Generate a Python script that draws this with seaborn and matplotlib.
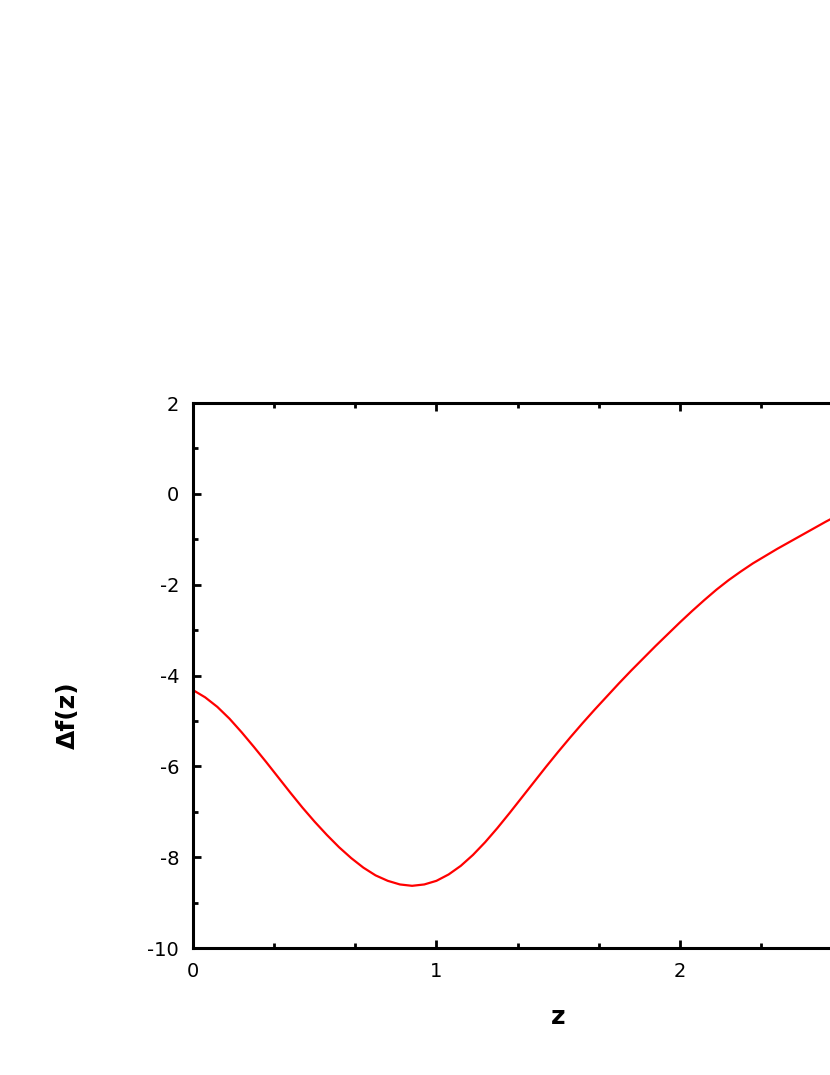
import numpy as np
import pandas as pd
import matplotlib
matplotlib.use("Agg")
import matplotlib.pyplot as plt
import seaborn as sns
from matplotlib.ticker import MultipleLocator

# Data
z_values = [0.00, 0.05, 0.10, 0.15, 0.20, 0.25, 0.30, 0.35, 0.40, 0.45,
            0.50, 0.55, 0.60, 0.65, 0.70, 0.75, 0.80, 0.85, 0.90, 0.95,
            1.00, 1.05, 1.10, 1.15, 1.20, 1.25, 1.30, 1.35, 1.40, 1.45,
            1.50, 1.55, 1.60, 1.65, 1.70, 1.75, 1.80, 1.85, 1.90, 1.95,
            2.00, 2.05, 2.10, 2.15, 2.20, 2.25, 2.30, 2.35, 2.40, 2.45,
            2.50, 2.55, 2.60, 2.65, 2.70]
df_values = [-4.32, -4.48, -4.69, -4.95, -5.25, -5.57, -5.90, -6.24, -6.58, -6.91,
             -7.22, -7.51, -7.78, -8.02, -8.23, -8.40, -8.52, -8.60, -8.63, -8.60,
             -8.52, -8.38, -8.19, -7.95, -7.67, -7.36, -7.03, -6.69, -6.35, -6.01,
             -5.68, -5.36, -5.05, -4.75, -4.46, -4.17, -3.89, -3.62, -3.35, -3.09,
             -2.83, -2.58, -2.34, -2.11, -1.90, -1.71, -1.53, -1.37, -1.21, -1.06,
             -0.91, -0.76, -0.61, -0.47, -0.33]
x_major_ticks = [0, 1, 2]
y_major_ticks = [-10, -8, -6, -4, -2, 0, 2]

sns.set_theme(style="ticks")
plt.rcParams['font.family'] = ['DejaVu Sans']
plt.rcParams['axes.unicode_minus'] = False
plt.rcParams['text.color'] = 'black'
plt.rcParams['axes.labelcolor'] = 'black'
plt.rcParams['xtick.color'] = 'black'
plt.rcParams['ytick.color'] = 'black'

data = pd.DataFrame({"z": z_values, "df": df_values})

fig = plt.figure(figsize=(8.3, 10.75), dpi=100)
ax = fig.add_axes([0.2325, 0.1181, 0.880, 0.507])

sns.lineplot(data=data, x="z", y="df", ax=ax, color="#ff0000", linewidth=1.6)

ax.set_xlim(0, 3)
ax.set_ylim(-10, 2)
ax.set_xticks(x_major_ticks)
ax.set_yticks(y_major_ticks)
ax.xaxis.set_minor_locator(MultipleLocator(1/3))
ax.yaxis.set_minor_locator(MultipleLocator(1))

for s in ax.spines.values():
    s.set_linewidth(2.2)
    s.set_color("black")
    s.set_visible(True)

ax.tick_params(which="both", direction="in", top=True, right=True, color="black")
ax.tick_params(which="major", length=6, width=2.0, labelsize=14, pad=10,
               labelcolor="black")
ax.tick_params(which="minor", length=3.5, width=2.0)

ax.set_xlabel("z", fontsize=18, fontweight="bold", color="black")
ax.set_ylabel("Δf(z)", fontsize=18, fontweight="bold", color="black")
ax.xaxis.set_label_coords(0.5, -0.105)
ax.yaxis.set_label_coords(-0.155, 0.4275)

fig.savefig("out.png", dpi=100)
